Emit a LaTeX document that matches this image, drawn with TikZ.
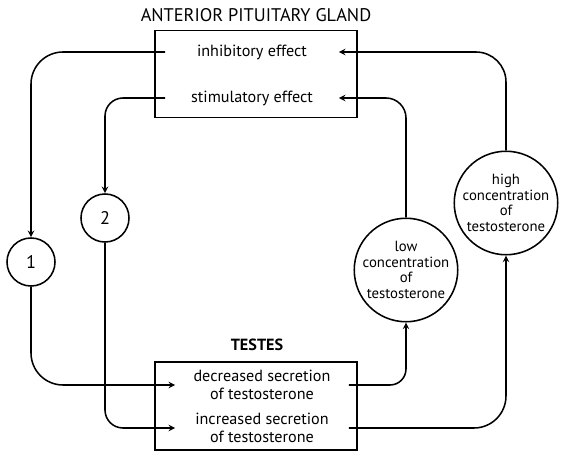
\documentclass[tikz,border=0pt]{standalone}
\usepackage{fontspec}
\setmainfont{PT Sans}
\usetikzlibrary{arrows}

\begin{document}
\begin{tikzpicture}[
                > = stealth, % arrow head style
                x = 0.025cm, y = -0.025cm, % one unit per pixel, y grows down
                line width = 1.1pt % line style
            ]

            \tikzstyle{box}=[draw = black, rectangle, minimum width = 5.05cm,
            minimum height = 2.2cm, inner sep = 0pt]
            \tikzstyle{row}=[align = center, minimum width = 4.3cm, inner sep = 0pt,
            font = \fontsize{11.5}{12.5}\selectfont]
            \tikzstyle{num}=[draw = black, circle, minimum size = 1.2cm,
            inner sep = 0pt, font = \fontsize{13}{15}\selectfont]
            \tikzstyle{level}=[draw = black, circle, minimum size = 2.4cm,
            inner sep = 0pt, align = center, font = \fontsize{10.5}{11}\selectfont]
            \tikzstyle{heading}=[font = \fontsize{13}{15}\selectfont]

            \useasboundingbox (0,0) rectangle (562,453);

            % anterior pituitary gland
            \node (pit) [heading] at (256,15) {ANTERIOR PITUITARY GLAND};
            \node (gland) [box, minimum height = 2.175cm] at (256,74) {};
            \node (inh) [row] at (252,52) {inhibitory effect};
            \node (stim) [row] at (252,98) {stimulatory effect};

            % testes
            \node (tes) [heading, font = \fontsize{11.5}{13}\selectfont\bfseries]
            at (257,345) {TESTES};
            \node (testes) [box] at (256,406) {};
            \node (dec) [row] at (262,385) {decreased secretion\\of testosterone};
            \node (inc) [row] at (262,428) {increased secretion\\of testosterone};

            % circles
            \node (1) [num] at (31,262) {1};
            \node (2) [num] at (105,218) {2};
            \node (low) [level] at (406,270) {low\\concentration\\of\\testosterone};
            \node (high) [level] at (506,203) {high\\concentration\\of\\testosterone};

            % loops
            \draw[->, rounded corners = 0.8cm] (inh.west) -| (1.north);
            \draw[->, rounded corners = 0.45cm] (stim.west) -| (2.north);
            \draw[->, rounded corners = 0.8cm] (1.south) |- (dec.west);
            \draw[->, rounded corners = 0.45cm] (2.south) |- (inc.west);
            \draw[->, rounded corners = 0.4cm] (dec.east) -| (low.south);
            \draw[->, rounded corners = 0.5cm] (low.north) |- (stim.east);
            \draw[->, rounded corners = 0.8cm] (inc.east) -| (high.south);
            \draw[->, rounded corners = 0.75cm] (high.north) |- (inh.east);

        \end{tikzpicture}
\end{document}
